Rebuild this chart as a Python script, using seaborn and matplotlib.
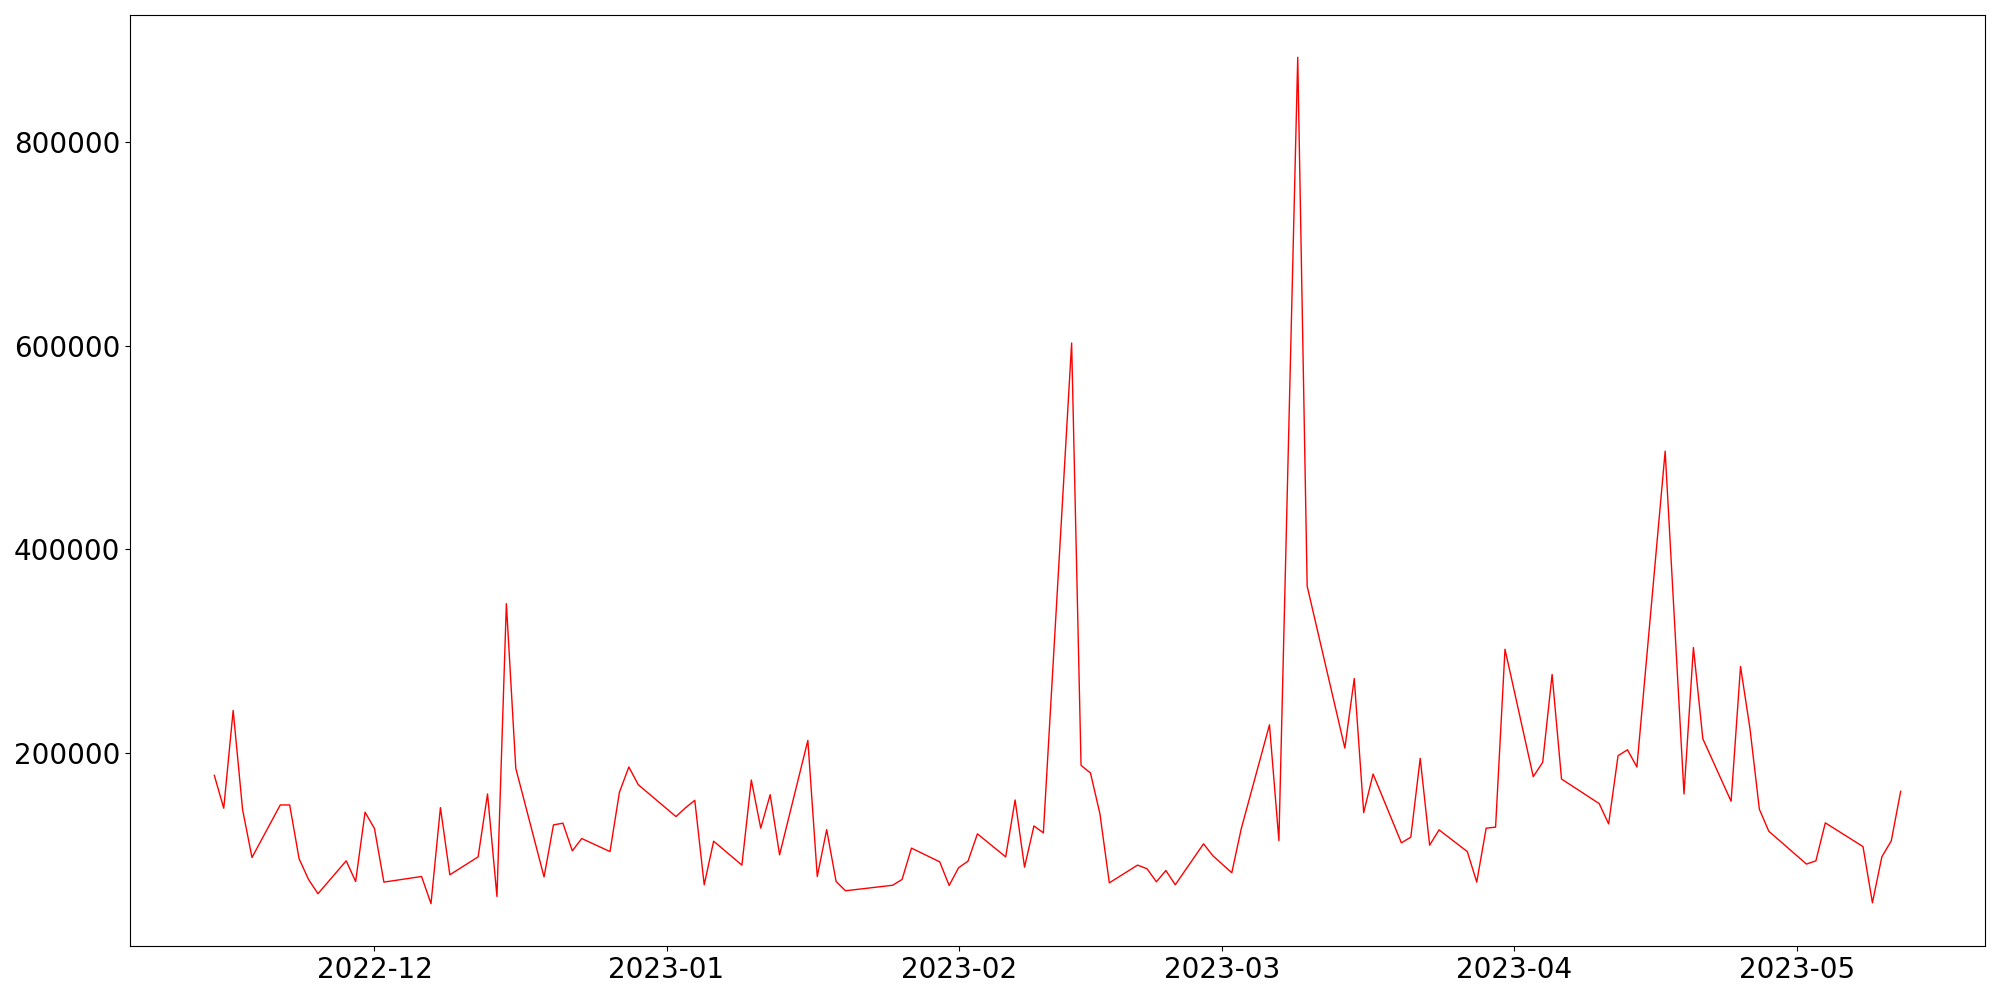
import seaborn as sns
import matplotlib.pyplot as plt
import pandas as pd

# Daily values (weekdays, some days missing)
dates = [
    '2022-11-14', '2022-11-15', '2022-11-16', '2022-11-17', '2022-11-18',
    '2022-11-21', '2022-11-22', '2022-11-23', '2022-11-24', '2022-11-25',
    '2022-11-28', '2022-11-29', '2022-11-30', '2022-12-01', '2022-12-02',
    '2022-12-06', '2022-12-07', '2022-12-08', '2022-12-09',
    '2022-12-12', '2022-12-13', '2022-12-14', '2022-12-15', '2022-12-16',
    '2022-12-19', '2022-12-20', '2022-12-21', '2022-12-22', '2022-12-23',
    '2022-12-26', '2022-12-27', '2022-12-28', '2022-12-29',
    '2023-01-02', '2023-01-03', '2023-01-04', '2023-01-05', '2023-01-06',
    '2023-01-09', '2023-01-10', '2023-01-11', '2023-01-12', '2023-01-13',
    '2023-01-16', '2023-01-17', '2023-01-18', '2023-01-19', '2023-01-20',
    '2023-01-25', '2023-01-26', '2023-01-27',
    '2023-01-30', '2023-01-31', '2023-02-01', '2023-02-02', '2023-02-03',
    '2023-02-06', '2023-02-07', '2023-02-08', '2023-02-09', '2023-02-10',
    '2023-02-13', '2023-02-14', '2023-02-15', '2023-02-16', '2023-02-17',
    '2023-02-20', '2023-02-21', '2023-02-22', '2023-02-23', '2023-02-24',
    '2023-02-27', '2023-02-28', '2023-03-02', '2023-03-03',
    '2023-03-06', '2023-03-07', '2023-03-09', '2023-03-10',
    '2023-03-14', '2023-03-15', '2023-03-16', '2023-03-17',
    '2023-03-20', '2023-03-21', '2023-03-22', '2023-03-23', '2023-03-24',
    '2023-03-27', '2023-03-28', '2023-03-29', '2023-03-30', '2023-03-31',
    '2023-04-03', '2023-04-04', '2023-04-05', '2023-04-06',
    '2023-04-10', '2023-04-11', '2023-04-12', '2023-04-13', '2023-04-14',
    '2023-04-17', '2023-04-19', '2023-04-20', '2023-04-21',
    '2023-04-24', '2023-04-25', '2023-04-26', '2023-04-27', '2023-04-28',
    '2023-05-02', '2023-05-03', '2023-05-04',
    '2023-05-08', '2023-05-09', '2023-05-10', '2023-05-11', '2023-05-12',
]

values = [
    178000, 145700, 241800, 144300, 97300,
    148900, 148900, 96000, 75700, 61700,
    94000, 73700, 141800, 125700, 73100,
    78600, 51900, 146300, 80300,
    97900, 159700, 59000, 346700, 184900,
    78200, 129300, 131000, 103800, 115900,
    103100, 161400, 186200, 168800,
    137500, 146000, 153500, 70500, 113300,
    89800, 173400, 126100, 159000, 99900,
    212300, 78600, 124700, 73700, 64600,
    70000, 75700, 106500,
    93000, 69800, 87200, 93700, 120500,
    97900, 153800, 87800, 128300, 121500,
    602800, 187800, 180300, 140400, 72400,
    89800, 86200, 73400, 84500, 70500,
    110700, 98900, 82300, 125400,
    227600, 113900, 883500, 363900,
    204800, 273100, 141400, 179300,
    111700, 117200, 194700, 109400, 124400,
    103100, 73100, 126100, 127100, 301900,
    176700, 190800, 277100, 174400,
    150200, 130300, 197300, 203100, 186200,
    496500, 159700, 303600, 213900,
    152500, 284900, 224100, 144700, 123100,
    90800, 94000, 131300,
    108000, 52800, 97900, 113600, 162300,
]

df = pd.DataFrame({'date': pd.to_datetime(dates), 'value': values})

fig, ax = plt.subplots(figsize=(20, 10), dpi=100)
sns.lineplot(data=df, x='date', y='value', color='red', linewidth=1.0, ax=ax)

ax.set_xlabel('')
ax.set_ylabel('')
ax.tick_params(labelsize=20)

plt.subplots_adjust(left=0.065, right=0.9925, top=0.985, bottom=0.054)
plt.savefig('out.png', dpi=100)
